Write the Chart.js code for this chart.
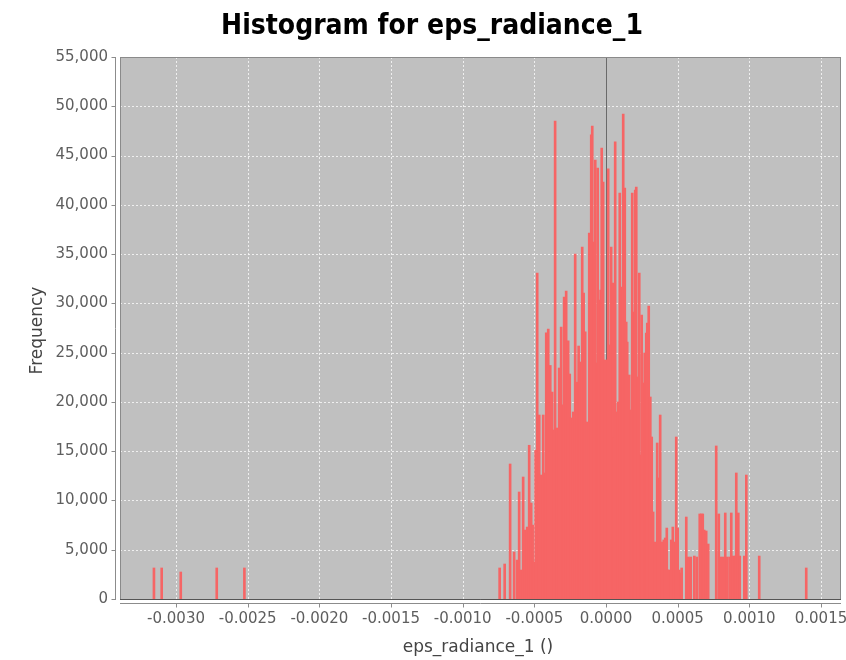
<!DOCTYPE html>
<html>
<head>
<meta charset="utf-8">
<script src="https://cdn.jsdelivr.net/npm/chart.js@4/dist/chart.umd.min.js"></script>
<style>
	body { margin: 0; background: #fff; }
</style>
</head>
<body>
<canvas id="grafico" width="846" height="660"></canvas>
<script>
	// centros de clase (eps_radiance_1) y frecuencias
	const binX = [
		-0.003154, -0.0031, -0.002967, -0.002716, -0.002523,
		-0.000742, -0.000707, -0.000669, -0.000641, -0.00062, -0.000606, -0.000592, -0.000578,
		-0.000564, -0.00055, -0.000536, -0.000522, -0.000512, -0.000501, -0.000491, -0.00048,
		-0.000466, -0.000452, -0.000438, -0.000428, -0.000417, -0.000403, -0.000389, -0.000376,
		-0.000365, -0.000355, -0.000341, -0.000327, -0.000313, -0.000302, -0.000292, -0.000278,
		-0.000264, -0.000253, -0.000243, -0.000229, -0.000215, -0.000201, -0.000191, -0.00018,
		-0.000166, -0.000156, -0.000145, -0.000131, -0.000117, -0.000103, -0.000096, -0.000086,
		-0.000075, -0.000065, -0.000058, -0.000047, -0.000037, -0.00003, -0.00002, -0.000006,
		0.000008, 0.000015, 0.000026, 0.000036, 0.000047, 0.000057, 0.000064, 0.000075,
		0.000085, 0.000096, 0.00011, 0.00012, 0.000131, 0.000141, 0.000148, 0.000162,
		0.000172, 0.000183, 0.000193, 0.000204, 0.000211, 0.000225, 0.000232, 0.000242,
		0.000249, 0.00026, 0.00027, 0.000281, 0.000288, 0.000298, 0.000309, 0.000319,
		0.000329, 0.000343, 0.000357, 0.000364, 0.000378, 0.000392, 0.000403, 0.000413,
		0.000424, 0.000431, 0.000441, 0.000455, 0.000466, 0.000476, 0.00049, 0.0005,
		0.000511, 0.000521, 0.000528, 0.00056, 0.000574, 0.000581, 0.000591, 0.000616,
		0.000633, 0.000654, 0.000665, 0.000675, 0.000685, 0.000699, 0.000713, 0.000769,
		0.000787, 0.000801, 0.000817, 0.000832, 0.000846, 0.000863, 0.000874, 0.000888,
		0.000902, 0.000909, 0.000923, 0.000933, 0.000965, 0.000979, 0.001069, 0.001397
	]
	const freq = [
		3150, 3150, 2740, 3150, 3150,
		3150, 3550, 13700, 4770, 3950, 10860, 2940, 12380,
		7000, 7300, 15600, 9740, 7500, 3750, 15100, 33080,
		18670, 12580, 18670, 12790, 27000, 27400, 23700, 21000,
		17150, 48500, 17350, 23440, 27600, 19700, 30650, 31250,
		26200, 22830, 18370, 18980, 35000, 22000, 25670, 24050,
		35720, 31050, 27100, 17960, 37140, 47090, 48000, 36230,
		44550, 23950, 43740, 30340, 31360, 45770, 42320, 24250,
		24250, 43640, 25780, 35720, 32070, 16340, 46380, 18980,
		19990, 41200, 31660, 49200, 41700, 28100, 26080, 22730,
		19180, 41200, 29120, 41500, 41800, 22530, 33080, 14610,
		28820, 21920, 24960, 26990, 28000, 29730, 20500, 16440,
		8830, 5780, 15830, 12280, 18670, 5780, 5990, 6190,
		7200, 2940, 2940, 5990, 7300, 5780, 16440, 7200,
		2940, 2640, 3150, 8320, 4260, 4160, 4260, 4360,
		4260, 8630, 8630, 8630, 7000, 6900, 5580, 15530,
		8630, 4260, 4260, 8730, 4260, 4260, 8730, 4360,
		4360, 12790, 8730, 4360, 4360, 12580, 4360, 3150
	]
	const xTicks = [-0.003, -0.0025, -0.002, -0.0015, -0.001, -0.0005, 0, 0.0005, 0.001, 0.0015]
	const yTicks = [0, 5000, 10000, 15000, 20000, 25000, 30000, 35000, 40000, 45000, 50000, 55000]

	const titulo = 'Histogram for eps_radiance_1'
	const tituloX = 'eps_radiance_1 ()'
	const tituloY = 'Frequency'

	const puntos = binX.map((x, i) => ({ x: x, y: freq[i] }))

	// fondo gris, rejilla punteada y marcador en cero, estilo JFreeChart
	const fondoPlot = {
		id: 'fondoPlot',
		beforeDatasetsDraw(chart) {
			const { ctx, chartArea, scales } = chart
			const izq = chartArea.left + 5
			const der = chartArea.right
			const arriba = chartArea.top
			const cero = scales.y.getPixelForValue(0)
			ctx.save()
			ctx.fillStyle = '#c0c0c0'
			ctx.fillRect(izq, arriba, der - izq, cero - arriba)

			ctx.strokeStyle = 'rgba(255,255,255,0.75)'
			ctx.lineWidth = 1
			ctx.setLineDash([2, 2])
			xTicks.forEach(v => {
				const px = Math.round(scales.x.getPixelForValue(v)) + 0.5
				ctx.beginPath(); ctx.moveTo(px, arriba); ctx.lineTo(px, cero); ctx.stroke()
			})
			yTicks.forEach(v => {
				if (v == 0) return
				const py = Math.round(scales.y.getPixelForValue(v)) + 0.5
				ctx.beginPath(); ctx.moveTo(izq, py); ctx.lineTo(der, py); ctx.stroke()
			})
			ctx.setLineDash([])

			// linea de valor cero
			const x0 = Math.round(scales.x.getPixelForValue(0)) + 0.5
			ctx.strokeStyle = '#6a6a6a'
			ctx.beginPath(); ctx.moveTo(x0, arriba); ctx.lineTo(x0, cero); ctx.stroke()
			ctx.restore()
		},
		afterDatasetsDraw(chart) {
			const { ctx, chartArea, scales } = chart
			const izq = chartArea.left + 5
			const der = chartArea.right
			const arriba = chartArea.top
			const cero = Math.round(scales.y.getPixelForValue(0))
			ctx.save()
			// borde del plot
			ctx.strokeStyle = '#8a8a8a'
			ctx.lineWidth = 1
			ctx.strokeRect(izq + 0.5, arriba + 0.5, der - izq - 1, cero - arriba)
			ctx.strokeStyle = '#555'
			ctx.beginPath(); ctx.moveTo(izq, cero + 0.5); ctx.lineTo(der, cero + 0.5); ctx.stroke()

			// ejes con sus marcas
			ctx.strokeStyle = '#8c8c8c'
			const ejeY = chartArea.left + 0.5
			ctx.beginPath(); ctx.moveTo(ejeY, arriba); ctx.lineTo(ejeY, cero + 1); ctx.stroke()
			yTicks.forEach(v => {
				const py = Math.round(scales.y.getPixelForValue(v)) + 0.5
				ctx.beginPath(); ctx.moveTo(ejeY - 4, py); ctx.lineTo(ejeY, py); ctx.stroke()
			})
			const ejeX = chartArea.bottom - 0.5
			ctx.beginPath(); ctx.moveTo(izq, ejeX); ctx.lineTo(der, ejeX); ctx.stroke()
			xTicks.forEach(v => {
				const px = Math.round(scales.x.getPixelForValue(v)) + 0.5
				ctx.beginPath(); ctx.moveTo(px, ejeX); ctx.lineTo(px, ejeX + 4); ctx.stroke()
			})
			ctx.restore()
		},
		afterDraw(chart) {
			const ctx = chart.ctx
			ctx.save()
			ctx.fillStyle = '#000'
			ctx.font = 'bold 28px "DejaVu Sans Condensed", "Liberation Sans", sans-serif'
			ctx.textAlign = 'center'
			ctx.textBaseline = 'middle'
			ctx.fillText(titulo, 432, 27)
			ctx.restore()
		}
	}

	const config = {
		type: 'bar',
		data: {
			datasets: [{
				data: puntos,
				backgroundColor: 'rgb(246, 101, 101)',
				borderWidth: 0,
				barThickness: 2,
				grouped: false
			}]
		},
		options: {
			responsive: false,
			devicePixelRatio: 1,
			animation: false,
			layout: { padding: { top: 57, right: 5, bottom: 0, left: 0 } },
			plugins: {
				legend: { display: false },
				tooltip: { enabled: false },
				title: { display: false }
			},
			scales: {
				x: {
					type: 'linear',
					offset: false,
					min: -0.0034258,
					max: 0.0016396,
					grid: { display: false, drawTicks: false },
					border: { display: false },
					afterBuildTicks: scale => { scale.ticks = xTicks.map(v => ({ value: v })) },
					afterFit: scale => {
						scale.height = 56
						scale.paddingLeft = 0
						scale.paddingRight = 0
					},
					ticks: {
						color: '#5e5e5e',
						font: { family: 'DejaVu Sans', size: 15 },
						padding: 6,
						maxRotation: 0,
						autoSkip: false,
						callback: v => (Math.abs(v) < 1e-12 ? 0 : v).toFixed(4)
					},
					title: {
						display: true,
						text: tituloX,
						color: '#444',
						font: { family: 'DejaVu Sans', size: 17 },
						padding: { top: 0, bottom: 2 }
					}
				},
				y: {
					min: -507,
					max: 55000,
					grid: { display: false, drawTicks: false },
					border: { display: false },
					afterBuildTicks: scale => { scale.ticks = yTicks.map(v => ({ value: v })) },
					afterFit: scale => {
						scale.width = 115
						scale.paddingTop = 0
						scale.paddingBottom = 0
					},
					ticks: {
						color: '#5e5e5e',
						font: { family: 'DejaVu Sans', size: 15 },
						padding: 7,
						autoSkip: false,
						callback: v => v.toLocaleString('en-US')
					},
					title: {
						display: true,
						text: tituloY,
						color: '#444',
						font: { family: 'DejaVu Sans', size: 17 },
						padding: { top: 27, bottom: 0 }
					}
				}
			}
		},
		plugins: [fondoPlot]
	}

	const grafico = new Chart(document.querySelector('#grafico'), config)
</script>
</body>
</html>
